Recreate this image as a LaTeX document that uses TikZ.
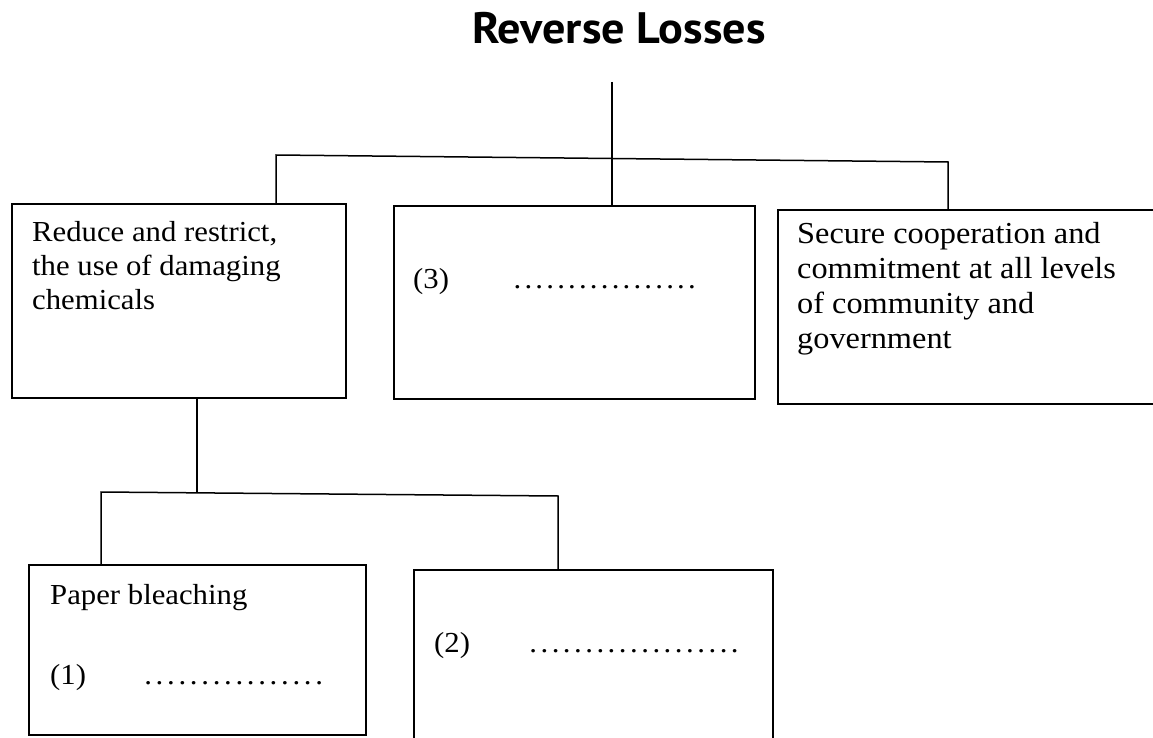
\documentclass[tikz,border=0pt]{standalone}
\usepackage{fontspec}
\setmainfont{Liberation Serif}
\newfontfamily\bodyfont{Liberation Serif}[FakeStretch=1.06]
\newfontfamily\titlefont{PT Sans}[FakeStretch=1.05]
\newcommand\dotrow[2]{\hbox to #1{\cleaders\hbox to #2{\hss.\hss}\hfill}}
\begin{document}
\begin{tikzpicture}[x=1pt,y=-1pt,
  box/.style={draw,line width=1.8pt,inner sep=0pt,anchor=north west},
  link/.style={line width=1.5pt},
  txt/.style={anchor=base west,inner sep=0pt,font=\bodyfont\fontsize{29}{31.5}\selectfont},
  bigtxt/.style={txt,font=\bodyfont\fontsize{30.5}{34.5}\selectfont}]
\useasboundingbox (0,0) rectangle (1153,738);
\fill[white] (0,0) rectangle (1153,738);
% title
\node[anchor=base,inner sep=0pt,font=\titlefont\bfseries\fontsize{44}{48}\selectfont] (title) at (619,44) {Reverse Losses};
% boxes
\node[box,minimum width=334pt,minimum height=194pt] (b1) at (11,203) {};
\node[box,minimum width=361pt,minimum height=193pt] (b2) at (393,205) {};
\node[box,minimum width=390pt,minimum height=194pt] (b3) at (777,209) {};
\node[box,minimum width=337pt,minimum height=170pt] (b4) at (28,564) {};
\node[box,minimum width=359pt,minimum height=172pt] (b5) at (413,569) {};
% texts
\node[txt] (t1a) at (32,241) {Reduce and restrict,};
\node[txt] (t1b) at (32,275) {the use of damaging};
\node[txt] (t1c) at (32,309) {chemicals};
\node[txt] (t2) at (413,288) {\rlap{(3)}\hskip93.5pt\dotrow{196pt}{10.9pt}};
\node[bigtxt] (t3a) at (797,243) {Secure cooperation and};
\node[bigtxt] (t3b) at (797,278) {commitment at all levels};
\node[bigtxt] (t3c) at (797,313) {of community and};
\node[bigtxt] (t3d) at (797,348) {government};
\node[txt] (t4a) at (50,604) {Paper bleaching};
\node[txt] (t4b) at (50,684) {\rlap{(1)}\hskip92.3pt\dotrow{182.4pt}{11.4pt}};
\node[txt] (t5) at (434,652) {\rlap{(2)}\hskip93.4pt\dotrow{212.8pt}{11.2pt}};
% connectors
\coordinate (top) at (612,82);
\coordinate (j) at (612,158.5);
\coordinate (j1) at (276,155);
\coordinate (j3) at (948,162);
\draw[link] (top) -- (j) -- (j |- b2.north);
\draw[link] (j1 |- b1.north) -- (j1) -- (j3) -- (j3 |- b3.north);
\coordinate (k) at (197,492.8);
\coordinate (k1) at (101,492);
\coordinate (k2) at (558,496);
\draw[link] (k |- b1.south) -- (k);
\draw[link] (k1 |- b4.north) -- (k1) -- (k2) -- (k2 |- b5.north);
\end{tikzpicture}
\end{document}
